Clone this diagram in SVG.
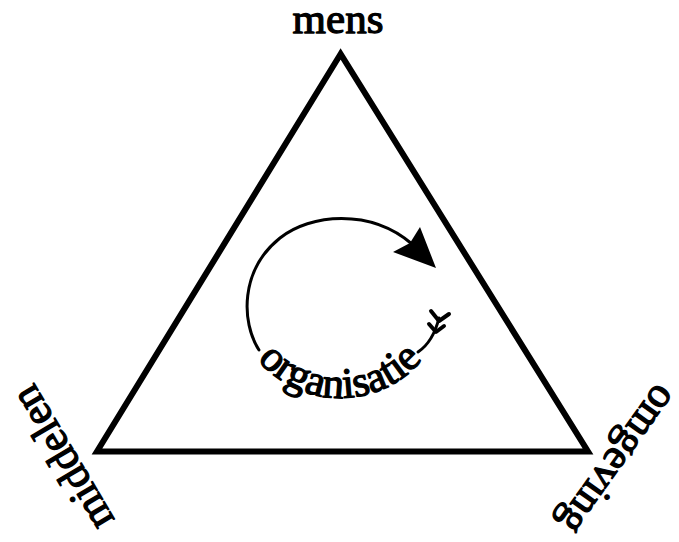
<svg xmlns="http://www.w3.org/2000/svg" width="679" height="542" viewBox="0 0 679 542">
  <style>
    .lbl { font-family: "Liberation Serif", "Times New Roman", serif; font-size: 43px; fill: #000; stroke: #000; stroke-width: 1.3px; stroke-linejoin: round; }
    .edge { fill: none; stroke: #000; stroke-width: 6; stroke-linejoin: miter; stroke-miterlimit: 10; }
    .loop { fill: none; stroke: #000; stroke-width: 3; stroke-linecap: round; }
    .feather { fill: none; stroke: #000; stroke-width: 4; stroke-linecap: round; stroke-linejoin: round; }
  </style>
  <defs>
    <path id="textArc" d="M257.3,359.4 A108,108 0 0 0 422.7,359.4"/>
  </defs>
  <rect x="0" y="0" width="679" height="542" fill="#fff"/>

  <g id="connectors">
    <path class="edge" d="M340.6,54 L97,451.5 L588,451.5 Z"/>
  </g>

  <g id="mens">
    <text class="lbl" x="338" y="33" text-anchor="middle">mens</text>
  </g>

  <g id="middelen">
    <text class="lbl" transform="translate(74.4,451) rotate(-120.6)" x="0" y="0" text-anchor="middle">middelen</text>
  </g>

  <g id="omgeving">
    <text class="lbl" transform="translate(607,452) rotate(125.6)" x="0" y="0" text-anchor="middle">omgeving</text>
  </g>

  <g id="organisatie">
    <path class="loop" d="M259,350 C241,322 240,270 280,238 C310,214 370,208 412,244"/>
    <polygon points="436,268 420,227 410,243 393,252" fill="#000"/>
    <path class="loop" d="M418,352 Q433,342 439,318"/>
    <path class="feather" d="M429,324 L436,332 L444,326"/>
    <path class="feather" d="M431,311 L439,321 L449,314"/>
    <text class="lbl"><textPath href="#textArc" startOffset="50%" text-anchor="middle">organisatie</textPath></text>
  </g>
</svg>
